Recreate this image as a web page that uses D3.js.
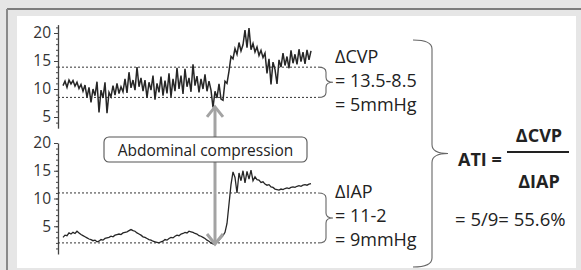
<!DOCTYPE html>
<html>
<head>
<meta charset="utf-8">
<script src="https://cdn.jsdelivr.net/npm/d3@7"></script>
<style>
  body { margin: 0; background: #e6e6e6; }
  svg { display: block; font-family: "Open Sans", sans-serif; }
</style>
</head>
<body>
<svg id="chart"></svg>
<script>
// CVP trace (mmHg), one reading every sample
var cvp = [10.6, 11.4, 10.3, 11.6, 10.9, 11.5, 10.5, 11.2, 10.1,
  10.8, 9.6, 10.7, 8.5, 10.3, 7.6, 10.0, 8.8, 11.3, 5.8, 9.8, 8.4, 11.2, 5.7,
  9.4, 8.6, 10.6, 8.9, 11.0, 9.2, 10.4, 9.5, 11.8, 9.3, 13.0, 10.2, 11.6, 9.8, 13.9, 10.4, 12.0,
  9.6, 11.6, 8.4, 11.2, 9.8, 12.4, 8.1, 11.0, 9.4, 12.2, 8.8, 11.5, 9.2, 12.8, 8.6, 11.8, 9.6, 13.8, 10.0, 12.4, 9.1, 13.6, 10.4, 12.0, 9.5,
  14.4, 10.6, 12.3, 9.4, 11.8, 10.0, 12.6, 9.6, 11.4, 9.8,
  6.7, 9.6, 8.4, 10.9, 8.2, 8.0,
  11.4, 11.0, 13.2, 15.8,
  15.4, 17.2, 16.2, 18.3, 16.8, 17.9, 20.5, 17.4, 20.9, 17.0, 18.1, 16.6,
  17.5, 16.0, 16.9, 15.6, 16.4,
  12.8, 15.4, 10.8, 14.8, 13.5, 10.9,
  15.2, 13.9, 16.4, 14.2, 15.8, 13.7, 16.9, 14.6, 16.2, 14.4, 17.1, 14.9, 16.6, 14.5, 17.0, 15.2, 16.8]

// IAP trace (mmHg)
var iap = [3.0, 3.4, 3.3, 3.8, 3.6, 3.9, 3.7, 4.1,
  3.8, 3.5, 3.3, 3.1, 2.9, 2.7, 2.6, 2.4, 2.5, 2.2,
  2.3, 2.6, 2.5, 2.8, 2.9, 3.0, 3.2, 3.1, 3.4, 3.5, 3.6, 3.5, 3.8, 3.9, 4.0, 4.2, 4.4, 4.2,
  4.1, 3.8, 3.6, 3.4, 3.1, 3.0, 2.8, 2.6, 2.5, 2.3, 2.2, 2.1, 2.0, 2.2,
  2.3, 2.6, 2.5, 2.8, 3.0, 2.9, 3.2, 3.4, 3.3, 3.6, 3.7, 3.9, 3.8, 4.1, 4.0,
  3.9, 3.7, 3.6, 3.3, 3.2, 3.0, 2.8, 2.5, 2.3, 2.0, 1.8,
  1.7, 2.2, 2.5, 2.9, 3.3,
  3.9, 5.5, 9.0, 12.5, 14.8, 13.8, 11.0, 14.6, 13.2, 15.0, 12.8, 14.9, 13.5, 15.1, 13.2, 13.9, 13.4, 13.3, 12.9,
  13.0, 12.6, 12.4, 12.5, 12.1, 12.0, 11.7, 11.6, 11.5, 11.7, 11.6, 11.8, 11.9, 11.8, 12.0, 12.1, 12.0, 12.2,
  12.3, 12.2, 12.4, 12.5, 12.4, 12.6, 12.7]

var cvpLevels = [13.9, 8.5]
var iapLevels = [11, 2]
var majorTicks = [5, 10, 15, 20]
var compressionAt = 76      // sample where the abdomen is pressed
var cvpArrowTip = 6.8
var iapArrowTip = 1.8

var cvpLines = ["\u0394CVP", "= 13.5-8.5", "= 5mmHg"]
var iapLines = ["\u0394IAP", "= 11-2", "= 9mmHg"]
var boxLabel = "Abdominal compression"
var atiLabel = "ATI ="
var atiNum = "\u0394CVP"
var atiDen = "\u0394IAP"
var atiResult = "= 5/9= 55.6%"

var width = 581
var height = 270
var svg = d3.select("#chart").attr("width", width).attr("height", height)

// frame
svg.append("rect").attr("width", width).attr("height", height).attr("fill", "#e6e6e6")
svg.append("rect").attr("x", 17).attr("y", 16).attr("width", 559).attr("height", 252).attr("fill", "#fff")
svg.append("line").attr("x1", 7).attr("x2", width).attr("y1", 9).attr("y2", 9)
  .attr("stroke", "#7d7d7d").attr("stroke-width", 2)
svg.append("line").attr("x1", 7).attr("x2", 7).attr("y1", 9).attr("y2", height)
  .attr("stroke", "#8a8a8a").attr("stroke-width", 2)

var x = d3.scaleLinear().domain([0, cvp.length - 1]).range([63, 311])
var yTop = d3.scaleLinear().domain([3, 21.5]).range([128.2, 24.6])
var yBot = d3.scaleLinear().domain([0, 20]).range([254, 143])
var axisX = 58
var lineEnd = 318

function drawPanel(y, data, levels, minorFrom, minorTo, lw) {
  var g = svg.append("g")
  // minor ticks
  g.append("g").attr("transform", "translate(" + axisX + ",0)")
    .call(d3.axisLeft(y).tickValues(d3.range(minorFrom, minorTo + 1)).tickSize(2).tickFormat(""))
    .call(a => a.select(".domain").remove())
    .selectAll("line").attr("stroke", "#444")
  var ax = g.append("g").attr("transform", "translate(" + axisX + ",0)")
    .call(d3.axisLeft(y).tickValues(majorTicks).tickSize(4).tickSizeOuter(0).tickPadding(3))
  ax.select(".domain").attr("stroke", "#444").attr("stroke-width", 1.3)
  ax.selectAll("line").attr("stroke", "#444")
  ax.selectAll("text").attr("font-size", 15.5).attr("fill", "#333")
    .attr("font-family", "'Open Sans', sans-serif")

  g.selectAll(".lvl").data(levels).enter().append("line")
    .attr("x1", axisX).attr("x2", lineEnd)
    .attr("y1", d => y(d)).attr("y2", d => y(d))
    .attr("stroke", "#333").attr("stroke-width", 1).attr("stroke-dasharray", "2,2")

  g.append("path").datum(data)
    .attr("fill", "none").attr("stroke", "#262626").attr("stroke-width", lw)
    .attr("d", d3.line().x((d, i) => x(i)).y(d => y(d)))
}

drawPanel(yTop, cvp, cvpLevels, 4, 21, 1.5)
drawPanel(yBot, iap, iapLevels, 1, 20, 1.3)

// curly brace, tip to the right
function brace(x0, x1, x2, y0, y1, r) {
  var ym = (y0 + y1) / 2
  var p = d3.path()
  p.moveTo(x0, y0)
  p.quadraticCurveTo(x1, y0, x1, y0 + r)
  p.lineTo(x1, ym - r)
  p.quadraticCurveTo(x1, ym, x2, ym)
  p.quadraticCurveTo(x1, ym, x1, ym + r)
  p.lineTo(x1, y1 - r)
  p.quadraticCurveTo(x1, y1, x0, y1)
  svg.append("path").attr("d", p.toString()).attr("fill", "none")
    .attr("stroke", "#666").attr("stroke-width", 1.1)
}
brace(lineEnd, 326, 333, yTop(cvpLevels[0]), yTop(cvpLevels[1]), 5)
brace(lineEnd, 326, 333, yBot(iapLevels[0]), yBot(iapLevels[1]), 5)
brace(413, 432, 448, 40, 267, 9)

// side labels
function block(lines, y0) {
  svg.append("g").selectAll("text").data(lines).enter().append("text")
    .attr("x", 335).attr("y", (d, i) => y0 + i * 24)
    .attr("font-size", 18).attr("fill", "#222").text(d => d)
}
block(cvpLines, 63)
block(iapLines, 198)

// ATI formula
svg.append("text").attr("x", 458).attr("y", 166).attr("font-size", 18)
  .attr("font-weight", "bold").attr("fill", "#222").text(atiLabel)
svg.append("text").attr("x", 539).attr("y", 142).attr("text-anchor", "middle").attr("font-size", 18)
  .attr("font-weight", "bold").attr("fill", "#222").text(atiNum)
svg.append("line").attr("x1", 507).attr("x2", 569).attr("y1", 152).attr("y2", 152)
  .attr("stroke", "#222").attr("stroke-width", 2)
svg.append("text").attr("x", 539).attr("y", 188).attr("text-anchor", "middle").attr("font-size", 18)
  .attr("font-weight", "bold").attr("fill", "#222").text(atiDen)
svg.append("text").attr("x", 455).attr("y", 226).attr("font-size", 18.5)
  .attr("fill", "#222").text(atiResult)

// compression box + arrows
var boxTop = 137, boxBottom = 162, ax0 = x(compressionAt)
var arrowColor = "#a3a3a3"
function arrow(yFrom, yTip, dir) {
  svg.append("line").attr("x1", ax0).attr("x2", ax0).attr("y1", yFrom).attr("y2", yTip + dir * 1.5)
    .attr("stroke", arrowColor).attr("stroke-width", 3)
  svg.append("path")
    .attr("d", "M" + (ax0 - 8) + "," + (yTip + dir * 10) + "L" + ax0 + "," + yTip + "L" + (ax0 + 8) + "," + (yTip + dir * 10))
    .attr("fill", "none").attr("stroke", arrowColor).attr("stroke-width", 3)
}
arrow(boxTop, yTop(cvpArrowTip), 1)
arrow(boxBottom, yBot(iapArrowTip), -1)

svg.append("rect").attr("x", 104).attr("y", boxTop).attr("width", 203).attr("height", boxBottom - boxTop)
  .attr("rx", 5).attr("fill", "#fff").attr("stroke", "#555").attr("stroke-width", 1.1)
svg.append("text").attr("x", 205.5).attr("y", 155.5).attr("text-anchor", "middle")
  .attr("font-size", 15.5).attr("fill", "#222").text(boxLabel)
</script>
</body>
</html>
